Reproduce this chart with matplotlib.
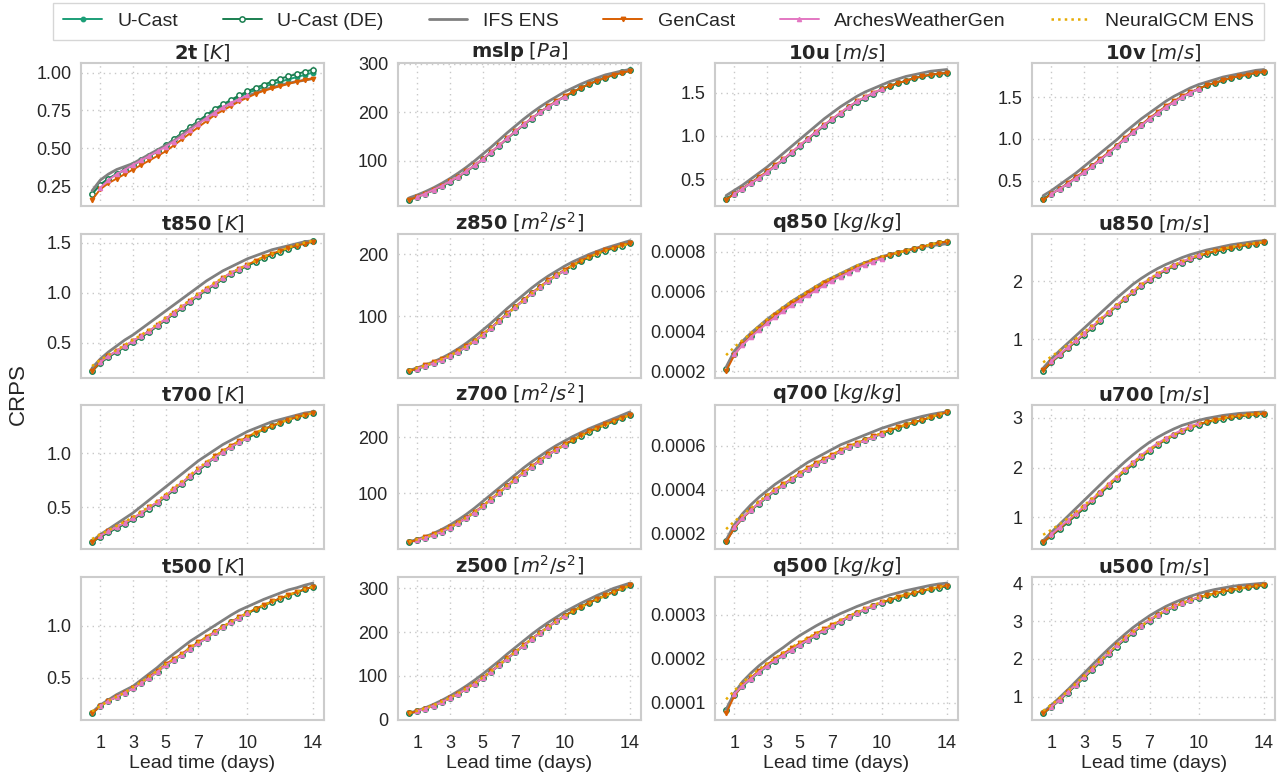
import numpy as np
import matplotlib
matplotlib.use("Agg")
import matplotlib.pyplot as plt
import seaborn as sns

LEAD = [0.5, 1.0, 1.5, 2.0, 2.5, 3.0, 3.5, 4.0, 4.5, 5.0, 5.5, 6.0, 6.5, 7.0,
        7.5, 8.0, 8.5, 9.0, 9.5, 10.0, 10.5, 11.0, 11.5, 12.0, 12.5, 13.0, 13.5, 14.0]
LEAD_ARCHES = [1.0, 1.5, 2.0, 2.5, 3.0, 3.5, 4.0, 4.5, 5.0, 5.5, 6.0, 6.5, 7.0,
               7.5, 8.0, 8.5, 9.0, 9.5, 10.0]
XTICKS = [1, 3, 5, 7, 10, 14]

VARS = ["2t", "mslp", "10u", "10v", "t850", "z850", "q850", "u850",
        "t700", "z700", "q700", "u700", "t500", "z500", "q500", "u500"]
UNITS = ["K", "Pa", "m/s", "m/s", "K", "m^2/s^2", "kg/kg", "m/s",
         "K", "m^2/s^2", "kg/kg", "m/s", "K", "m^2/s^2", "kg/kg", "m/s"]
YTICKS = {
    "2t": [0.25, 0.50, 0.75, 1.00], "mslp": [100, 200, 300],
    "10u": [0.5, 1.0, 1.5], "10v": [0.5, 1.0, 1.5],
    "t850": [0.5, 1.0, 1.5], "z850": [100, 200],
    "q850": [0.0002, 0.0004, 0.0006, 0.0008], "u850": [1, 2],
    "t700": [0.5, 1.0], "z700": [100, 200],
    "q700": [0.0002, 0.0004, 0.0006], "u700": [1, 2, 3],
    "t500": [0.5, 1.0], "z500": [0, 100, 200, 300],
    "q500": [0.0001, 0.0002, 0.0003], "u500": [1, 2, 3, 4],
}
# q-values are listed in units of 1e-4 kg/kg
Q_SCALE = {"q850": 1e-4, "q700": 1e-4, "q500": 1e-4}

UCAST = {
    "2t": [0.20, 0.26, 0.30, 0.33, 0.36, 0.39, 0.42, 0.45, 0.48, 0.52, 0.56, 0.60, 0.64, 0.68, 0.71, 0.75, 0.78, 0.81, 0.84, 0.865, 0.885, 0.905, 0.925, 0.94, 0.955, 0.97, 0.985, 1.00],
    "mslp": [20, 26, 33, 40, 48, 57, 67, 78, 90, 103, 117, 131, 146, 160, 174, 187, 200, 211, 222, 232, 241, 250, 258, 265, 271, 277, 282, 286],
    "10u": [0.27, 0.33, 0.39, 0.45, 0.51, 0.58, 0.65, 0.72, 0.80, 0.88, 0.96, 1.04, 1.12, 1.19, 1.26, 1.33, 1.39, 1.44, 1.49, 1.54, 1.58, 1.61, 1.64, 1.67, 1.69, 1.71, 1.72, 1.73],
    "10v": [0.28, 0.34, 0.40, 0.46, 0.53, 0.60, 0.67, 0.75, 0.83, 0.91, 1.00, 1.08, 1.16, 1.24, 1.31, 1.38, 1.44, 1.50, 1.55, 1.60, 1.64, 1.67, 1.70, 1.73, 1.75, 1.77, 1.79, 1.80],
    "t850": [0.22, 0.30, 0.36, 0.41, 0.46, 0.51, 0.56, 0.61, 0.67, 0.73, 0.79, 0.85, 0.91, 0.97, 1.03, 1.08, 1.14, 1.19, 1.23, 1.27, 1.31, 1.35, 1.38, 1.41, 1.44, 1.47, 1.50, 1.52],
    "z850": [12, 16, 20, 25, 30, 36, 43, 51, 60, 70, 81, 92, 104, 115, 126, 137, 147, 157, 166, 174, 182, 189, 195, 201, 206, 210, 214, 218],
    "q850": [2.1, 2.85, 3.35, 3.75, 4.1, 4.45, 4.75, 5.05, 5.35, 5.6, 5.85, 6.1, 6.35, 6.6, 6.8, 7.0, 7.2, 7.4, 7.55, 7.7, 7.85, 7.95, 8.05, 8.15, 8.25, 8.35, 8.45, 8.5],
    "u850": [0.45, 0.60, 0.72, 0.84, 0.96, 1.08, 1.20, 1.32, 1.45, 1.57, 1.69, 1.81, 1.92, 2.02, 2.11, 2.19, 2.26, 2.32, 2.38, 2.43, 2.47, 2.51, 2.54, 2.57, 2.60, 2.63, 2.65, 2.67],
    "t700": [0.18, 0.23, 0.27, 0.31, 0.35, 0.39, 0.44, 0.49, 0.54, 0.60, 0.66, 0.72, 0.78, 0.84, 0.90, 0.96, 1.01, 1.06, 1.10, 1.14, 1.18, 1.22, 1.25, 1.28, 1.31, 1.33, 1.35, 1.37],
    "z700": [12, 16, 20, 25, 31, 38, 46, 55, 65, 76, 88, 100, 112, 124, 136, 147, 158, 168, 177, 186, 194, 202, 209, 216, 222, 228, 234, 240],
    "q700": [1.65, 2.25, 2.7, 3.05, 3.35, 3.65, 3.95, 4.2, 4.45, 4.7, 4.95, 5.15, 5.35, 5.55, 5.75, 5.95, 6.1, 6.25, 6.4, 6.55, 6.7, 6.82, 6.95, 7.07, 7.18, 7.3, 7.42, 7.55],
    "u700": [0.50, 0.63, 0.76, 0.90, 1.04, 1.18, 1.33, 1.48, 1.63, 1.78, 1.93, 2.07, 2.21, 2.34, 2.46, 2.56, 2.65, 2.73, 2.80, 2.86, 2.91, 2.95, 2.98, 3.01, 3.03, 3.05, 3.07, 3.08],
    "t500": [0.16, 0.23, 0.28, 0.32, 0.36, 0.40, 0.45, 0.50, 0.56, 0.62, 0.67, 0.72, 0.78, 0.83, 0.88, 0.935, 0.985, 1.03, 1.075, 1.115, 1.155, 1.19, 1.225, 1.255, 1.285, 1.315, 1.345, 1.37],
    "z500": [14, 19, 25, 32, 40, 49, 59, 70, 82, 95, 109, 124, 139, 154, 169, 184, 198, 212, 225, 237, 248, 258, 267, 276, 284, 292, 300, 307],
    "q500": [0.83, 1.18, 1.38, 1.54, 1.69, 1.83, 1.96, 2.08, 2.20, 2.31, 2.42, 2.53, 2.64, 2.74, 2.84, 2.94, 3.03, 3.12, 3.20, 3.27, 3.33, 3.39, 3.44, 3.49, 3.54, 3.58, 3.62, 3.65],
    "u500": [0.55, 0.72, 0.90, 1.10, 1.30, 1.50, 1.71, 1.92, 2.13, 2.33, 2.52, 2.70, 2.87, 3.02, 3.16, 3.28, 3.39, 3.48, 3.56, 3.63, 3.69, 3.74, 3.79, 3.83, 3.87, 3.91, 3.94, 3.97],
}

UCAST_DE = dict(UCAST)
UCAST_DE["2t"] = [0.20, 0.26, 0.30, 0.33, 0.36, 0.39, 0.42, 0.45, 0.48, 0.52, 0.56, 0.60, 0.64, 0.68, 0.72, 0.76, 0.79, 0.82, 0.85, 0.875, 0.90, 0.92, 0.94, 0.96, 0.975, 0.99, 1.005, 1.02]

IFS = {
    "2t": [0.22, 0.29, 0.33, 0.36, 0.38, 0.40, 0.43, 0.46, 0.49, 0.52, 0.55, 0.59, 0.63, 0.67, 0.70, 0.74, 0.77, 0.80, 0.82, 0.845, 0.865, 0.885, 0.90, 0.915, 0.93, 0.94, 0.95, 0.96],
    "mslp": [24, 30, 37, 45, 54, 64, 75, 87, 100, 114, 128, 143, 158, 172, 186, 199, 211, 222, 232, 242, 250, 258, 265, 271, 277, 281, 285, 288],
    "10u": [0.31, 0.37, 0.43, 0.50, 0.57, 0.64, 0.72, 0.80, 0.88, 0.96, 1.04, 1.12, 1.20, 1.27, 1.34, 1.40, 1.46, 1.51, 1.55, 1.59, 1.63, 1.66, 1.69, 1.71, 1.73, 1.75, 1.76, 1.77],
    "10v": [0.32, 0.38, 0.45, 0.52, 0.59, 0.67, 0.75, 0.83, 0.91, 0.99, 1.08, 1.16, 1.24, 1.31, 1.38, 1.45, 1.51, 1.56, 1.61, 1.65, 1.68, 1.71, 1.74, 1.76, 1.78, 1.80, 1.82, 1.83],
    "t850": [0.25, 0.34, 0.41, 0.47, 0.53, 0.58, 0.64, 0.70, 0.76, 0.82, 0.88, 0.94, 1.00, 1.06, 1.12, 1.17, 1.22, 1.26, 1.30, 1.34, 1.37, 1.40, 1.43, 1.45, 1.47, 1.49, 1.51, 1.52],
    "z850": [13, 17, 22, 27, 33, 40, 48, 57, 67, 78, 89, 101, 113, 124, 135, 146, 156, 165, 173, 181, 188, 194, 200, 205, 210, 214, 218, 222],
    "q850": [2.2, 3.0, 3.5, 3.9, 4.25, 4.6, 4.9, 5.2, 5.5, 5.75, 6.0, 6.25, 6.5, 6.7, 6.9, 7.1, 7.3, 7.45, 7.6, 7.75, 7.85, 7.95, 8.05, 8.15, 8.25, 8.3, 8.35, 8.4],
    "u850": [0.50, 0.66, 0.80, 0.93, 1.06, 1.19, 1.32, 1.45, 1.58, 1.71, 1.83, 1.95, 2.05, 2.14, 2.22, 2.29, 2.35, 2.41, 2.46, 2.50, 2.54, 2.57, 2.60, 2.63, 2.65, 2.67, 2.69, 2.70],
    "t700": [0.19, 0.25, 0.30, 0.35, 0.40, 0.45, 0.51, 0.57, 0.63, 0.69, 0.75, 0.81, 0.87, 0.93, 0.98, 1.03, 1.08, 1.12, 1.16, 1.20, 1.23, 1.26, 1.29, 1.31, 1.33, 1.35, 1.37, 1.38],
    "z700": [13, 17, 22, 28, 35, 43, 52, 62, 73, 85, 97, 109, 121, 133, 145, 156, 166, 176, 185, 193, 201, 208, 215, 221, 227, 233, 239, 245],
    "q700": [1.7, 2.4, 2.9, 3.3, 3.65, 3.95, 4.25, 4.5, 4.75, 5.0, 5.25, 5.45, 5.65, 5.85, 6.05, 6.2, 6.35, 6.5, 6.65, 6.8, 6.92, 7.04, 7.15, 7.25, 7.35, 7.43, 7.5, 7.55],
    "u700": [0.53, 0.70, 0.86, 1.02, 1.18, 1.34, 1.50, 1.66, 1.82, 1.97, 2.12, 2.26, 2.39, 2.51, 2.61, 2.70, 2.78, 2.85, 2.90, 2.95, 2.99, 3.02, 3.05, 3.07, 3.09, 3.10, 3.11, 3.12],
    "t500": [0.17, 0.24, 0.29, 0.34, 0.38, 0.42, 0.48, 0.54, 0.60, 0.67, 0.73, 0.79, 0.85, 0.90, 0.95, 1.00, 1.05, 1.10, 1.145, 1.18, 1.215, 1.25, 1.28, 1.31, 1.34, 1.36, 1.385, 1.405],
    "z500": [15, 20, 27, 35, 44, 54, 65, 77, 90, 104, 119, 134, 150, 165, 180, 195, 209, 222, 234, 246, 256, 266, 275, 284, 292, 300, 306, 312],
    "q500": [0.85, 1.22, 1.48, 1.67, 1.84, 1.99, 2.13, 2.26, 2.40, 2.53, 2.64, 2.75, 2.85, 2.94, 3.03, 3.11, 3.19, 3.26, 3.33, 3.39, 3.45, 3.50, 3.55, 3.59, 3.63, 3.67, 3.70, 3.72],
    "u500": [0.58, 0.77, 0.97, 1.18, 1.40, 1.62, 1.84, 2.06, 2.27, 2.47, 2.66, 2.84, 3.00, 3.15, 3.28, 3.40, 3.50, 3.59, 3.67, 3.74, 3.80, 3.85, 3.89, 3.93, 3.96, 3.98, 4.00, 4.02],
}

GENCAST = {
    "2t": [0.16, 0.23, 0.27, 0.30, 0.33, 0.36, 0.39, 0.42, 0.45, 0.48, 0.52, 0.56, 0.60, 0.64, 0.68, 0.72, 0.75, 0.78, 0.81, 0.835, 0.86, 0.88, 0.895, 0.91, 0.925, 0.94, 0.95, 0.96],
    "mslp": [20, 26, 33, 41, 49, 58, 68, 79, 91, 104, 118, 132, 147, 161, 175, 188, 200, 212, 223, 233, 242, 250, 258, 265, 271, 277, 281, 285],
    "10u": [0.26, 0.33, 0.39, 0.46, 0.52, 0.59, 0.66, 0.73, 0.81, 0.89, 0.97, 1.05, 1.13, 1.20, 1.27, 1.34, 1.40, 1.45, 1.50, 1.54, 1.58, 1.61, 1.64, 1.67, 1.69, 1.71, 1.72, 1.73],
    "10v": [0.27, 0.34, 0.40, 0.47, 0.54, 0.61, 0.68, 0.76, 0.84, 0.92, 1.01, 1.09, 1.17, 1.25, 1.32, 1.39, 1.45, 1.51, 1.56, 1.60, 1.64, 1.67, 1.70, 1.73, 1.75, 1.77, 1.79, 1.80],
    "t850": [0.22, 0.31, 0.37, 0.42, 0.47, 0.52, 0.57, 0.62, 0.68, 0.74, 0.80, 0.86, 0.92, 0.98, 1.04, 1.09, 1.15, 1.20, 1.24, 1.28, 1.32, 1.36, 1.39, 1.42, 1.45, 1.47, 1.49, 1.51],
    "z850": [12, 16, 21, 26, 31, 37, 44, 52, 61, 71, 82, 93, 105, 116, 127, 138, 148, 158, 167, 175, 183, 190, 196, 202, 207, 211, 215, 218],
    "q850": [2.0, 2.8, 3.35, 3.75, 4.1, 4.45, 4.8, 5.1, 5.4, 5.65, 5.9, 6.15, 6.4, 6.6, 6.8, 7.0, 7.2, 7.4, 7.55, 7.7, 7.85, 7.95, 8.05, 8.15, 8.25, 8.35, 8.45, 8.5],
    "u850": [0.46, 0.61, 0.73, 0.85, 0.97, 1.09, 1.21, 1.33, 1.46, 1.58, 1.70, 1.82, 1.93, 2.03, 2.12, 2.20, 2.27, 2.33, 2.39, 2.44, 2.48, 2.52, 2.55, 2.58, 2.61, 2.63, 2.65, 2.67],
    "t700": [0.18, 0.24, 0.28, 0.32, 0.36, 0.40, 0.45, 0.50, 0.55, 0.61, 0.67, 0.73, 0.79, 0.85, 0.91, 0.97, 1.02, 1.07, 1.11, 1.15, 1.19, 1.22, 1.25, 1.28, 1.31, 1.33, 1.35, 1.37],
    "z700": [12, 16, 21, 26, 32, 39, 47, 56, 66, 77, 89, 101, 113, 125, 137, 148, 159, 169, 178, 187, 195, 203, 210, 217, 223, 229, 235, 240],
    "q700": [1.6, 2.25, 2.7, 3.05, 3.4, 3.7, 4.0, 4.25, 4.5, 4.75, 5.0, 5.2, 5.4, 5.6, 5.8, 5.98, 6.13, 6.28, 6.43, 6.58, 6.72, 6.84, 6.96, 7.08, 7.19, 7.3, 7.42, 7.54],
    "u700": [0.50, 0.64, 0.78, 0.92, 1.06, 1.20, 1.35, 1.50, 1.65, 1.80, 1.95, 2.09, 2.23, 2.36, 2.47, 2.57, 2.66, 2.74, 2.81, 2.87, 2.92, 2.96, 2.99, 3.02, 3.04, 3.06, 3.07, 3.08],
    "t500": [0.16, 0.23, 0.28, 0.32, 0.36, 0.40, 0.45, 0.51, 0.57, 0.63, 0.68, 0.73, 0.79, 0.84, 0.89, 0.94, 0.99, 1.035, 1.08, 1.12, 1.16, 1.195, 1.23, 1.26, 1.29, 1.32, 1.345, 1.37],
    "z500": [14, 19, 25, 32, 40, 49, 59, 70, 82, 96, 110, 125, 140, 155, 170, 185, 199, 212, 225, 237, 248, 258, 267, 276, 284, 292, 300, 307],
    "q500": [0.76, 1.16, 1.40, 1.57, 1.73, 1.87, 2.00, 2.12, 2.24, 2.35, 2.46, 2.57, 2.67, 2.77, 2.87, 2.96, 3.05, 3.13, 3.21, 3.28, 3.34, 3.40, 3.45, 3.50, 3.55, 3.59, 3.63, 3.66],
    "u500": [0.55, 0.73, 0.92, 1.12, 1.32, 1.53, 1.74, 1.95, 2.16, 2.36, 2.55, 2.73, 2.89, 3.04, 3.18, 3.30, 3.40, 3.49, 3.57, 3.64, 3.70, 3.75, 3.80, 3.84, 3.88, 3.91, 3.94, 3.97],
}

ARCHES = {
    "2t": [0.24, 0.29, 0.33, 0.36, 0.39, 0.42, 0.45, 0.48, 0.51, 0.545, 0.58, 0.62, 0.66, 0.70, 0.735, 0.77, 0.80, 0.825, 0.85],
    "mslp": [26, 33, 41, 49, 58, 68, 79, 91, 104, 118, 132, 147, 161, 175, 188, 200, 211, 222, 232],
    "10u": [0.33, 0.39, 0.45, 0.51, 0.58, 0.65, 0.73, 0.81, 0.89, 0.97, 1.05, 1.13, 1.20, 1.27, 1.34, 1.40, 1.45, 1.50, 1.54],
    "10v": [0.34, 0.40, 0.46, 0.53, 0.60, 0.67, 0.75, 0.83, 0.91, 1.00, 1.08, 1.16, 1.24, 1.31, 1.38, 1.44, 1.50, 1.55, 1.60],
    "t850": [0.31, 0.37, 0.42, 0.47, 0.52, 0.57, 0.62, 0.68, 0.74, 0.80, 0.86, 0.92, 0.98, 1.04, 1.09, 1.15, 1.20, 1.24, 1.28],
    "z850": [16, 20, 25, 30, 36, 43, 51, 60, 70, 81, 92, 104, 115, 126, 137, 147, 157, 166, 174],
    "q850": [2.85, 3.3, 3.7, 4.05, 4.4, 4.7, 5.0, 5.3, 5.55, 5.8, 6.05, 6.3, 6.55, 6.75, 6.95, 7.15, 7.35, 7.5, 7.65],
    "u850": [0.62, 0.74, 0.86, 0.98, 1.10, 1.22, 1.34, 1.47, 1.59, 1.71, 1.83, 1.94, 2.04, 2.13, 2.21, 2.28, 2.34, 2.40, 2.45],
    "t700": [0.24, 0.28, 0.32, 0.36, 0.40, 0.45, 0.50, 0.55, 0.61, 0.67, 0.73, 0.79, 0.85, 0.91, 0.96, 1.01, 1.06, 1.10, 1.14],
    "z700": [16, 20, 25, 31, 38, 46, 55, 65, 76, 88, 100, 112, 124, 136, 147, 158, 168, 177, 186],
    "q700": [2.3, 2.72, 3.07, 3.38, 3.68, 3.97, 4.22, 4.47, 4.72, 4.96, 5.16, 5.36, 5.56, 5.76, 5.95, 6.1, 6.25, 6.4, 6.55],
    "u700": [0.66, 0.80, 0.94, 1.08, 1.22, 1.37, 1.52, 1.67, 1.82, 1.97, 2.11, 2.25, 2.38, 2.49, 2.59, 2.68, 2.76, 2.83, 2.89],
    "t500": [0.23, 0.28, 0.32, 0.36, 0.40, 0.45, 0.50, 0.56, 0.62, 0.67, 0.72, 0.78, 0.83, 0.88, 0.935, 0.985, 1.03, 1.075, 1.115],
    "z500": [19, 25, 32, 40, 49, 59, 70, 82, 95, 109, 124, 139, 154, 169, 184, 198, 212, 225, 237],
    "q500": [1.20, 1.39, 1.55, 1.70, 1.84, 1.97, 2.09, 2.21, 2.32, 2.43, 2.54, 2.65, 2.75, 2.85, 2.95, 3.04, 3.13, 3.21, 3.28],
    "u500": [0.73, 0.92, 1.12, 1.32, 1.53, 1.74, 1.95, 2.16, 2.36, 2.55, 2.73, 2.89, 3.04, 3.18, 3.30, 3.40, 3.49, 3.57, 3.64],
}

NEURALGCM = {
    "t850": [0.27, 0.33, 0.38, 0.43, 0.48, 0.53, 0.58, 0.63, 0.69, 0.75, 0.81, 0.87, 0.93, 0.99, 1.05, 1.10, 1.15, 1.20, 1.24, 1.28, 1.32, 1.36, 1.39, 1.42, 1.45, 1.48, 1.50, 1.52],
    "z850": [13, 17, 21, 26, 31, 37, 44, 52, 61, 71, 82, 93, 104, 115, 126, 137, 147, 157, 166, 174, 182, 189, 195, 201, 206, 210, 214, 217],
    "q850": [2.8, 3.2, 3.55, 3.9, 4.25, 4.6, 4.9, 5.2, 5.5, 5.75, 6.0, 6.25, 6.5, 6.7, 6.9, 7.1, 7.3, 7.45, 7.6, 7.75, 7.85, 7.95, 8.05, 8.15, 8.25, 8.35, 8.45, 8.55],
    "u850": [0.60, 0.70, 0.80, 0.90, 1.01, 1.12, 1.23, 1.35, 1.47, 1.59, 1.71, 1.83, 1.94, 2.04, 2.13, 2.21, 2.28, 2.34, 2.40, 2.45, 2.49, 2.53, 2.56, 2.59, 2.62, 2.64, 2.66, 2.68],
    "t700": [0.21, 0.25, 0.29, 0.33, 0.37, 0.41, 0.46, 0.51, 0.56, 0.62, 0.68, 0.74, 0.80, 0.86, 0.92, 0.97, 1.02, 1.07, 1.11, 1.15, 1.19, 1.22, 1.25, 1.28, 1.31, 1.33, 1.35, 1.37],
    "z700": [13, 17, 21, 26, 32, 39, 47, 56, 66, 77, 89, 101, 113, 125, 137, 148, 158, 168, 177, 186, 194, 202, 209, 216, 222, 228, 234, 239],
    "q700": [2.2, 2.55, 2.85, 3.15, 3.45, 3.75, 4.0, 4.25, 4.5, 4.75, 5.0, 5.2, 5.4, 5.6, 5.8, 5.98, 6.13, 6.28, 6.43, 6.58, 6.72, 6.85, 6.97, 7.09, 7.2, 7.31, 7.43, 7.55],
    "u700": [0.65, 0.75, 0.86, 0.98, 1.11, 1.24, 1.38, 1.52, 1.66, 1.81, 1.95, 2.09, 2.23, 2.36, 2.47, 2.57, 2.66, 2.74, 2.81, 2.87, 2.92, 2.96, 2.99, 3.02, 3.04, 3.06, 3.08, 3.09],
    "t500": [0.18, 0.23, 0.28, 0.32, 0.36, 0.41, 0.46, 0.51, 0.57, 0.63, 0.68, 0.73, 0.79, 0.84, 0.89, 0.94, 0.99, 1.035, 1.08, 1.12, 1.16, 1.195, 1.23, 1.26, 1.29, 1.32, 1.345, 1.37],
    "z500": [15, 20, 26, 33, 41, 50, 60, 71, 83, 96, 110, 125, 140, 155, 170, 184, 198, 211, 224, 236, 247, 257, 266, 275, 283, 291, 299, 306],
    "q500": [1.08, 1.28, 1.46, 1.62, 1.76, 1.89, 2.02, 2.14, 2.26, 2.37, 2.48, 2.58, 2.68, 2.78, 2.88, 2.97, 3.06, 3.14, 3.22, 3.29, 3.35, 3.41, 3.46, 3.51, 3.55, 3.59, 3.63, 3.66],
    "u500": [0.62, 0.78, 0.95, 1.14, 1.34, 1.54, 1.75, 1.96, 2.16, 2.36, 2.55, 2.72, 2.88, 3.03, 3.17, 3.29, 3.39, 3.48, 3.56, 3.63, 3.69, 3.74, 3.79, 3.83, 3.87, 3.91, 3.94, 3.97],
}

sns.set_theme(style="whitegrid")
plt.rcParams["font.family"] = ["Liberation Sans", "DejaVu Sans"]
plt.rcParams["mathtext.fontset"] = "dejavusans"

C_UCAST = "#1b9e77"
C_DE = "#1a7f50"
C_IFS = "#808080"
C_GEN = "#d95f02"
C_ARCH = "#e377c2"
C_NGCM = "#e6ab02"

fig, axes = plt.subplots(4, 4, figsize=(12.78, 7.72), dpi=100, sharex=True)
fig.subplots_adjust(left=0.0634, right=0.9977, top=0.9184, bottom=0.0674,
                    wspace=0.305, hspace=0.194)

handles = None
for i, var in enumerate(VARS):
    ax = axes[i // 4][i % 4]
    s = Q_SCALE.get(var, 1.0)
    h1, = ax.plot(LEAD, np.array(UCAST[var]) * s, color=C_UCAST, marker="o", ms=3.2,
                  lw=1.4, label="U-Cast")
    h2, = ax.plot(LEAD, np.array(UCAST_DE[var]) * s, color=C_DE, marker="o", ms=3.8,
                  mfc="white", mew=1.1, lw=1.4, label="U-Cast (DE)")
    h3, = ax.plot(LEAD, np.array(IFS[var]) * s, color=C_IFS, lw=2.0, label="IFS ENS")
    h4, = ax.plot(LEAD, np.array(GENCAST[var]) * s, color=C_GEN, marker="v", ms=3.2,
                  lw=1.4, label="GenCast")
    h5, = ax.plot(LEAD_ARCHES, np.array(ARCHES[var]) * s, color=C_ARCH, marker="^",
                  ms=3.0, lw=1.4, label="ArchesWeatherGen")
    if var in NEURALGCM:
        ax.plot(LEAD, np.array(NEURALGCM[var]) * s, color=C_NGCM, ls=":", lw=1.8,
                label="NeuralGCM ENS")
    if handles is None:
        h6 = matplotlib.lines.Line2D([], [], color=C_NGCM, ls=":", lw=1.8)
        handles = [h1, h2, h3, h4, h5, h6]

    ax.set_title(r"$\mathbf{%s}$ $[%s]$" % (var, UNITS[i]), fontsize=14, pad=3)
    ax.set_xticks(XTICKS)
    ax.set_yticks(YTICKS[var])
    ax.grid(True, linestyle=(0, (1, 3)), color="#c8c8c8", linewidth=1.0)
    for sp in ax.spines.values():
        sp.set_color("#cccccc")
        sp.set_linewidth(1.5)
    ax.tick_params(axis="y", labelsize=13, length=0, pad=7)
    ax.tick_params(axis="x", labelsize=13, length=0, pad=11)
    if i // 4 == 3:
        ax.set_xlabel("Lead time (days)", fontsize=14, labelpad=2)

fig.text(0.014, 0.49, "CRPS", rotation=90, fontsize=16, va="center", ha="center")

fig.legend(handles, ["U-Cast", "U-Cast (DE)", "IFS ENS", "GenCast",
                     "ArchesWeatherGen", "NeuralGCM ENS"],
           loc="upper center", bbox_to_anchor=(0.5153, 1.009), ncol=6, fontsize=14,
           frameon=True, edgecolor="#cccccc", fancybox=False, columnspacing=2.3,
           handlelength=2.0, borderpad=0.5)

fig.savefig("out.png", dpi=100)
